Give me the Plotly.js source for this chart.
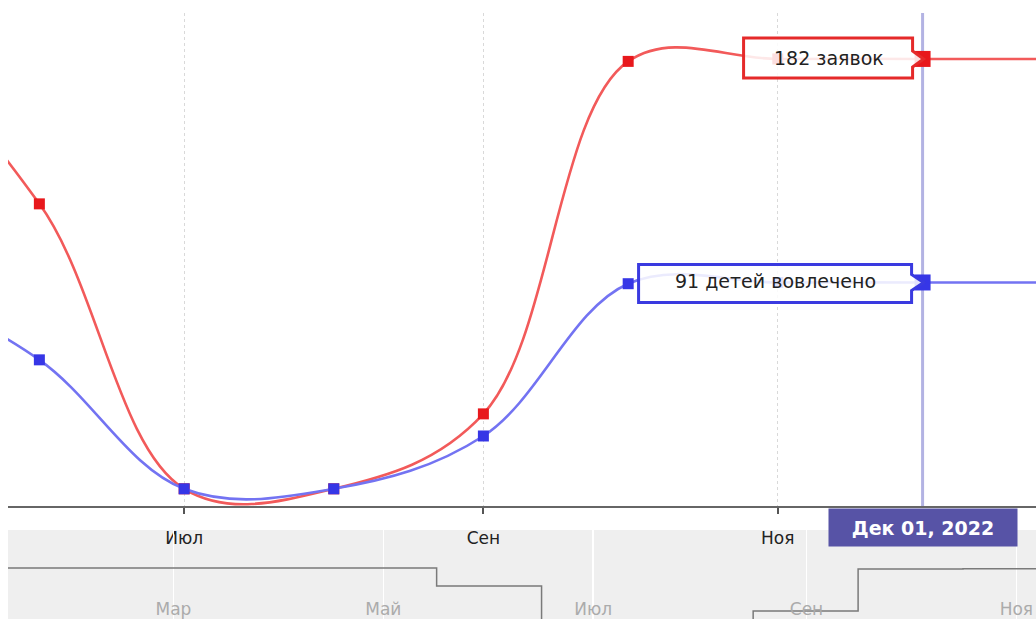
<!DOCTYPE html>
<html>
<head>
<meta charset="utf-8">
<script src="https://cdn.plot.ly/plotly-3.0.1.min.js"></script>
<style>
  html, body { margin: 0; padding: 0; background: #ffffff; }
  #chart { width: 1036px; height: 619px; }
</style>
</head>
<body>
<div id="chart"></div>
<script>
// ---- data ----
const months = ['2022-01-01','2022-02-01','2022-03-01','2022-04-01','2022-05-01','2022-06-01',
                '2022-07-01','2022-08-01','2022-09-01','2022-10-01','2022-11-01','2022-12-01','2023-01-01'];
const zayavki = [184, 184, 184, 184, 184, 123, 7, 7, 37.5, 181, 182, 182, 182];
const deti    = [null, null, null, null, 93, 59.5, 7, 7, 28.5, 90.5, 91, 91, 91];
const mainTickVals = ['2022-07-01','2022-09-01','2022-11-01'];
const mainTickText = ['Июл','Сен','Ноя'];
const navTickVals  = ['2022-03-01','2022-05-01','2022-07-01','2022-09-01','2022-11-01'];
const navTickText  = ['Мар','Май','Июл','Сен','Ноя'];
const cursorDate  = '2022-12-01';
const cursorLabel = 'Дек 01, 2022';
const zayavkiWord = 'заявок';
const detiWord    = 'детей вовлечено';

// ---- build ----
const idx = months.indexOf(cursorDate);
const FONT = 'DejaVu Sans, Verdana, sans-serif';
const RED_LINE = '#f25a5a', RED_MARK = '#e8181c';
const BLUE_LINE = '#7373f2', BLUE_MARK = '#3636e6';

const traces = [
  { x: months, y: zayavki, xaxis: 'x', yaxis: 'y', type: 'scatter', mode: 'lines+markers',
    line: { color: RED_LINE, width: 2.6, shape: 'spline', smoothing: 1.05 },
    marker: { symbol: 'square', size: 11, color: RED_MARK }, hoverinfo: 'skip' },
  { x: months, y: deti, xaxis: 'x', yaxis: 'y', type: 'scatter', mode: 'lines+markers',
    line: { color: BLUE_LINE, width: 2.6, shape: 'spline', smoothing: 1.05 },
    marker: { symbol: 'square', size: 11, color: BLUE_MARK }, hoverinfo: 'skip' },
  { x: [months[idx]], y: [zayavki[idx]], xaxis: 'x', yaxis: 'y', type: 'scatter', mode: 'markers',
    marker: { symbol: 'square', size: 16, color: RED_MARK }, hoverinfo: 'skip' },
  { x: [months[idx]], y: [deti[idx]], xaxis: 'x', yaxis: 'y', type: 'scatter', mode: 'markers',
    marker: { symbol: 'square', size: 16, color: BLUE_MARK }, hoverinfo: 'skip' },
  // navigator (scrollbar) graph
  { x: months, y: zayavki, xaxis: 'x2', yaxis: 'y2', type: 'scatter', mode: 'lines',
    line: { color: '#7a7a7a', width: 1.5, shape: 'hvh' }, hoverinfo: 'skip' }
];

const H = 619;
const px2paper = p => (H - p) / H;

const balloon = (yval, path, color) => ({
  type: 'path', xref: 'x', yref: 'y', xsizemode: 'pixel', ysizemode: 'pixel',
  xanchor: cursorDate, yanchor: yval, path: path,
  line: { color: color, width: 3 }, fillcolor: 'rgba(255,255,255,0.86)', layer: 'above'
});

const layout = {
  width: 1036, height: 619,
  margin: { l: 8, r: 0, t: 0, b: 0 },
  paper_bgcolor: '#ffffff', plot_bgcolor: 'rgba(0,0,0,0)',
  showlegend: false,
  hovermode: false,
  font: { family: FONT, color: '#222' },
  xaxis: {
    type: 'date', range: ['2022-05-25 12:00', '2022-12-24 12:00'],
    anchor: 'y', tickvals: mainTickVals, ticktext: mainTickText,
    ticks: 'outside', ticklen: 6, tickwidth: 2, tickcolor: '#555',
    ticklabelstandoff: 10,
    tickfont: { family: FONT, size: 17, color: '#222' },
    showline: true, linecolor: '#666', linewidth: 2,
    showgrid: true, gridcolor: '#d9d9d9', gridwidth: 1, griddash: 'dot',
    zeroline: false, fixedrange: true
  },
  yaxis: {
    domain: [px2paper(506), px2paper(13)], range: [0, 200.7],
    visible: false, fixedrange: true
  },
  xaxis2: {
    type: 'date', range: ['2022-01-11 22:00', '2022-11-06 17:00'],
    anchor: 'free', position: px2paper(597),
    tickvals: navTickVals, ticktext: navTickText,
    ticks: '', showline: false,
    tickfont: { family: FONT, size: 17, color: '#ababab' },
    showgrid: true, gridcolor: '#ffffff', gridwidth: 1.5,
    zeroline: false, fixedrange: true
  },
  yaxis2: {
    domain: [0, px2paper(530)], range: [10.2, 314], anchor: 'x2',
    visible: false, fixedrange: true
  },
  shapes: [
    { type: 'rect', xref: 'paper', yref: 'paper', x0: 0, x1: 1, y0: 0, y1: px2paper(530),
      fillcolor: '#efefef', line: { width: 0 }, layer: 'below' },
    { type: 'line', xref: 'x', yref: 'y domain', x0: cursorDate, x1: cursorDate, y0: 0, y1: 1,
      line: { color: '#b3b3e3', width: 3 }, layer: 'below' },
    balloon(zayavki[idx], 'M -179 21 L -10 21 L -10 8 L 1 0 L -10 -8 L -10 -19 L -179 -19 Z', '#e52a2a'),
    balloon(deti[idx], 'M -284 18 L -11 18 L -11 8 L 1 0 L -11 -8 L -11 -20 L -284 -20 Z', '#3a3ae0')
  ],
  annotations: [
    { xref: 'x', yref: 'y', x: cursorDate, y: zayavki[idx], xshift: -94, yshift: 1,
      text: zayavki[idx] + ' ' + zayavkiWord, showarrow: false, xanchor: 'center', yanchor: 'middle',
      font: { family: FONT, size: 19, color: '#222' } },
    { xref: 'x', yref: 'y', x: cursorDate, y: deti[idx], xshift: -147, yshift: 1,
      text: deti[idx] + ' ' + detiWord, showarrow: false, xanchor: 'center', yanchor: 'middle',
      font: { family: FONT, size: 19, color: '#222' } },
    { xref: 'x', yref: 'paper', x: cursorDate, y: px2paper(527), xshift: 0,
      text: '<b>' + cursorLabel + '</b>', showarrow: false, xanchor: 'center', yanchor: 'middle',
      bgcolor: '#5753a6', borderpad: 4, width: 180, height: 29,
      font: { family: FONT, size: 19, color: '#ffffff' } }
  ]
};

Plotly.newPlot('chart', traces, layout, { staticPlot: true, displayModeBar: false });
</script>
</body>
</html>
